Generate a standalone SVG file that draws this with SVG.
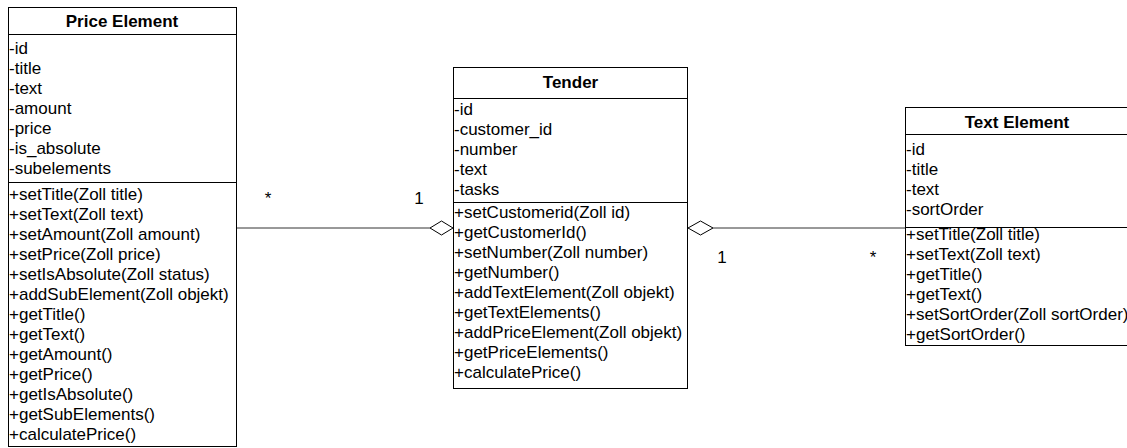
<svg xmlns="http://www.w3.org/2000/svg" width="1127" height="448" viewBox="0 0 1127 448">
  <style>
    .box { fill: #fff; stroke: #000; stroke-width: 1; }
    .sep { stroke: #000; stroke-width: 1; }
    .title { font-family: "Liberation Sans", Arial, sans-serif; font-size: 17px; font-weight: bold; text-anchor: middle; fill: #000; }
    .item { font-family: "Liberation Sans", Arial, sans-serif; font-size: 17px; fill: #000; }
    .mult { font-family: "Liberation Sans", Arial, sans-serif; font-size: 17px; fill: #000; text-anchor: middle; }
    .link { stroke: #333; stroke-width: 1; fill: none; }
    .agg { fill: #fff; stroke: #000; stroke-width: 1; }
  </style>

  <!-- Associations (aggregation on the Tender side) -->
  <g id="connectors">
    <line class="link" x1="236.5" y1="228" x2="430" y2="228"/>
    <polygon class="agg" points="430,228 441.5,221 453,228 441.5,235"/>
    <text class="mult" x="268" y="204">*</text>
    <text class="mult" x="419" y="204">1</text>

    <line class="link" x1="713" y1="228" x2="905.5" y2="228"/>
    <polygon class="agg" points="688,228 700.5,221 713,228 700.5,235"/>
    <text class="mult" x="722" y="263">1</text>
    <text class="mult" x="873" y="263">*</text>
  </g>

  <!-- Price Element class -->
  <g id="price-element">
    <rect class="box" x="8.5" y="7.5" width="228" height="439"/>
    <line class="sep" x1="8.5" y1="34.5" x2="236.5" y2="34.5"/>
    <line class="sep" x1="8.5" y1="182.5" x2="236.5" y2="182.5"/>
    <text class="title" x="122" y="27">Price Element</text>
    <text class="item" x="9" y="54">-id</text>
    <text class="item" x="9" y="74">-title</text>
    <text class="item" x="9" y="94">-text</text>
    <text class="item" x="9" y="114">-amount</text>
    <text class="item" x="9" y="134">-price</text>
    <text class="item" x="9" y="154">-is_absolute</text>
    <text class="item" x="9" y="174">-subelements</text>
    <text class="item" x="9" y="200">+setTitle(Zoll title)</text>
    <text class="item" x="9" y="220">+setText(Zoll text)</text>
    <text class="item" x="9" y="240">+setAmount(Zoll amount)</text>
    <text class="item" x="9" y="260">+setPrice(Zoll price)</text>
    <text class="item" x="9" y="280">+setIsAbsolute(Zoll status)</text>
    <text class="item" x="9" y="300">+addSubElement(Zoll objekt)</text>
    <text class="item" x="9" y="320">+getTitle()</text>
    <text class="item" x="9" y="340">+getText()</text>
    <text class="item" x="9" y="360">+getAmount()</text>
    <text class="item" x="9" y="380">+getPrice()</text>
    <text class="item" x="9" y="400">+getIsAbsolute()</text>
    <text class="item" x="9" y="420">+getSubElements()</text>
    <text class="item" x="9" y="440">+calculatePrice()</text>
  </g>

  <!-- Tender class -->
  <g id="tender">
    <rect class="box" x="453.5" y="67.5" width="234" height="321"/>
    <line class="sep" x1="453.5" y1="98.5" x2="687.5" y2="98.5"/>
    <line class="sep" x1="453.5" y1="202.5" x2="687.5" y2="202.5"/>
    <text class="title" x="570.5" y="88">Tender</text>
    <text class="item" x="454" y="114.5">-id</text>
    <text class="item" x="454" y="134.5">-customer_id</text>
    <text class="item" x="454" y="154.5">-number</text>
    <text class="item" x="454" y="174.5">-text</text>
    <text class="item" x="454" y="194.5">-tasks</text>
    <text class="item" x="454" y="218">+setCustomerid(Zoll id)</text>
    <text class="item" x="454" y="238">+getCustomerId()</text>
    <text class="item" x="454" y="258">+setNumber(Zoll number)</text>
    <text class="item" x="454" y="278">+getNumber()</text>
    <text class="item" x="454" y="298">+addTextElement(Zoll objekt)</text>
    <text class="item" x="454" y="318">+getTextElements()</text>
    <text class="item" x="454" y="338">+addPriceElement(Zoll objekt)</text>
    <text class="item" x="454" y="358">+getPriceElements()</text>
    <text class="item" x="454" y="378">+calculatePrice()</text>
  </g>

  <!-- Text Element class -->
  <g id="text-element">
    <rect class="box" x="905.5" y="107.5" width="230" height="238"/>
    <line class="sep" x1="905.5" y1="134.5" x2="1135.5" y2="134.5"/>
    <line class="sep" x1="905.5" y1="227.5" x2="1135.5" y2="227.5"/>
    <text class="title" x="1017" y="127.5">Text Element</text>
    <text class="item" x="906" y="154.5">-id</text>
    <text class="item" x="906" y="174.5">-title</text>
    <text class="item" x="906" y="194.5">-text</text>
    <text class="item" x="906" y="214.5">-sortOrder</text>
    <text class="item" x="906" y="240">+setTitle(Zoll title)</text>
    <text class="item" x="906" y="260">+setText(Zoll text)</text>
    <text class="item" x="906" y="280">+getTitle()</text>
    <text class="item" x="906" y="300">+getText()</text>
    <text class="item" x="906" y="320">+setSortOrder(Zoll sortOrder)</text>
    <text class="item" x="906" y="340">+getSortOrder()</text>
  </g>
</svg>
